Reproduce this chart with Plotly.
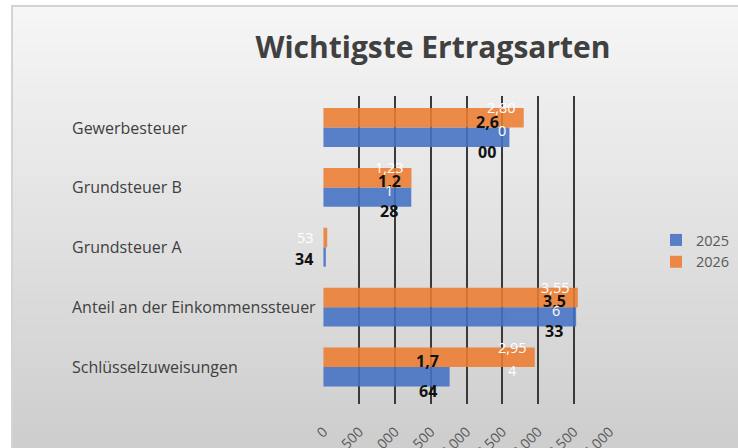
import plotly.graph_objects as go

categories = ["Gewerbesteuer", "Grundsteuer B", "Grundsteuer A",
              "Anteil an der Einkommenssteuer", "Schlüsselzuweisungen"]
series_names = ["2025", "2026"]
values_2025 = [2600, 1228, 34, 3533, 1764]
values_2026 = [2800, 1231, 53, 3556, 2954]
tick_vals = [0, 500, 1000, 1500, 2000, 2500, 3000, 3500, 4000]
tick_text = ["0", "500", "1,000", "1,500", "2,000", "2,500", "3,000", "3,500", "4,000"]

# layout geometry (pixels)
W, H = 738, 448
L, R, T, B = 323, 128, 96, 44
PW, PH = W - L - R, H - T - B

def px_x(px):
    return (px - L) / PW

def px_y(py):
    return (H - B - py) / PH

BLUE = "#4472C4"
ORANGE = "#ED7D31"
FONT = "Open Sans"

fig = go.Figure()
fig.add_trace(go.Bar(y=categories, x=values_2025, name=series_names[0], orientation="h",
                     marker=dict(color=BLUE, line=dict(width=0)), opacity=0.88))
fig.add_trace(go.Bar(y=categories, x=values_2026, name=series_names[1], orientation="h",
                     marker=dict(color=ORANGE, line=dict(width=0)), opacity=0.88))

# background gradient + frame
shapes = []
N = 60
y0p, y1p = 6, 470
c_top, c_bot = (246, 246, 246), (203, 203, 203)
for i in range(N):
    a = y0p + (y1p - y0p) * i / N
    b = y0p + (y1p - y0p) * (i + 1) / N
    t = (i + 0.5) / N
    c = tuple(int(round(c_top[k] + (c_bot[k] - c_top[k]) * t)) for k in range(3))
    shapes.append(dict(type="rect", xref="paper", yref="paper", layer="below",
                       x0=px_x(12), x1=px_x(770), y0=px_y(b + 1), y1=px_y(a),
                       fillcolor="rgb(%d,%d,%d)" % c, line=dict(width=0)))
shapes.append(dict(type="rect", xref="paper", yref="paper", layer="below",
                   x0=px_x(12), x1=px_x(770), y0=px_y(470), y1=px_y(6),
                   fillcolor="rgba(0,0,0,0)", line=dict(color="#d4d4d4", width=2)))

annotations = []
# category labels (left aligned)
for c in categories:
    annotations.append(dict(x=px_x(70), xref="paper", y=c, yref="y", text=c,
                            xanchor="left", yanchor="middle", showarrow=False,
                            font=dict(family=FONT, size=16, color="#404040")))

def split_label(v, n):
    s = f"{v:,}"
    if len(s) <= n:
        return [s]
    return [s[:n], s[n:]]

# data labels
for c, v in zip(categories, values_2025):
    lines = split_label(v, 3)
    shifts = [6, -24] if len(lines) == 2 else [-12]
    for ln, sh in zip(lines, shifts):
        annotations.append(dict(x=v, y=c, xref="x", yref="y", text="<b>%s</b>" % ln,
                                xshift=-22, yshift=sh, showarrow=False,
                                xanchor="center", yanchor="middle",
                                font=dict(family=FONT, size=16, color="#111111")))
for c, v in zip(categories, values_2026):
    lines = split_label(v, 4)
    shifts = [20, -3] if len(lines) == 2 else [10]
    for ln, sh in zip(lines, shifts):
        annotations.append(dict(x=v, y=c, xref="x", yref="y", text=ln,
                                xshift=-22, yshift=sh, showarrow=False,
                                xanchor="center", yanchor="middle",
                                font=dict(family=FONT, size=14.5, color="#ffffff")))

fig.update_layout(
    width=W, height=H,
    margin=dict(l=L, r=R, t=T, b=B, pad=0, autoexpand=False),
    paper_bgcolor="white",
    plot_bgcolor="rgba(0,0,0,0)",
    barmode="group", bargap=0.35, bargroupgap=0.0,
    title=dict(text="<b>Wichtigste Ertragsarten</b>", x=433 / W, xanchor="center",
               y=1 - 47 / H, yanchor="middle",
               font=dict(family=FONT, size=30, color="#404040")),
    showlegend=True,
    legend=dict(x=px_x(656), y=px_y(251), xanchor="left", yanchor="middle",
                traceorder="normal", bgcolor="rgba(0,0,0,0)",
                font=dict(family=FONT, size=14.5, color="#595959"),
                itemwidth=30, tracegroupgap=0),
    shapes=shapes,
    annotations=annotations,
)
fig.update_xaxes(range=[-6, 4006], tickvals=tick_vals, ticktext=tick_text,
                 tickangle=-45, showgrid=True, gridcolor="#3a3a3a", gridwidth=2,
                 zeroline=False, showline=False, ticks="",
                 ticklabelstandoff=16,
                 tickfont=dict(family=FONT, size=14, color="#595959"))
fig.update_yaxes(categoryorder="array", categoryarray=categories[::-1],
                 showticklabels=False, showgrid=False, zeroline=False, showline=False)

fig.write_html("out.html", config={"displayModeBar": False},
               post_script="document.body.style.margin='0';document.body.style.overflow='hidden';")
